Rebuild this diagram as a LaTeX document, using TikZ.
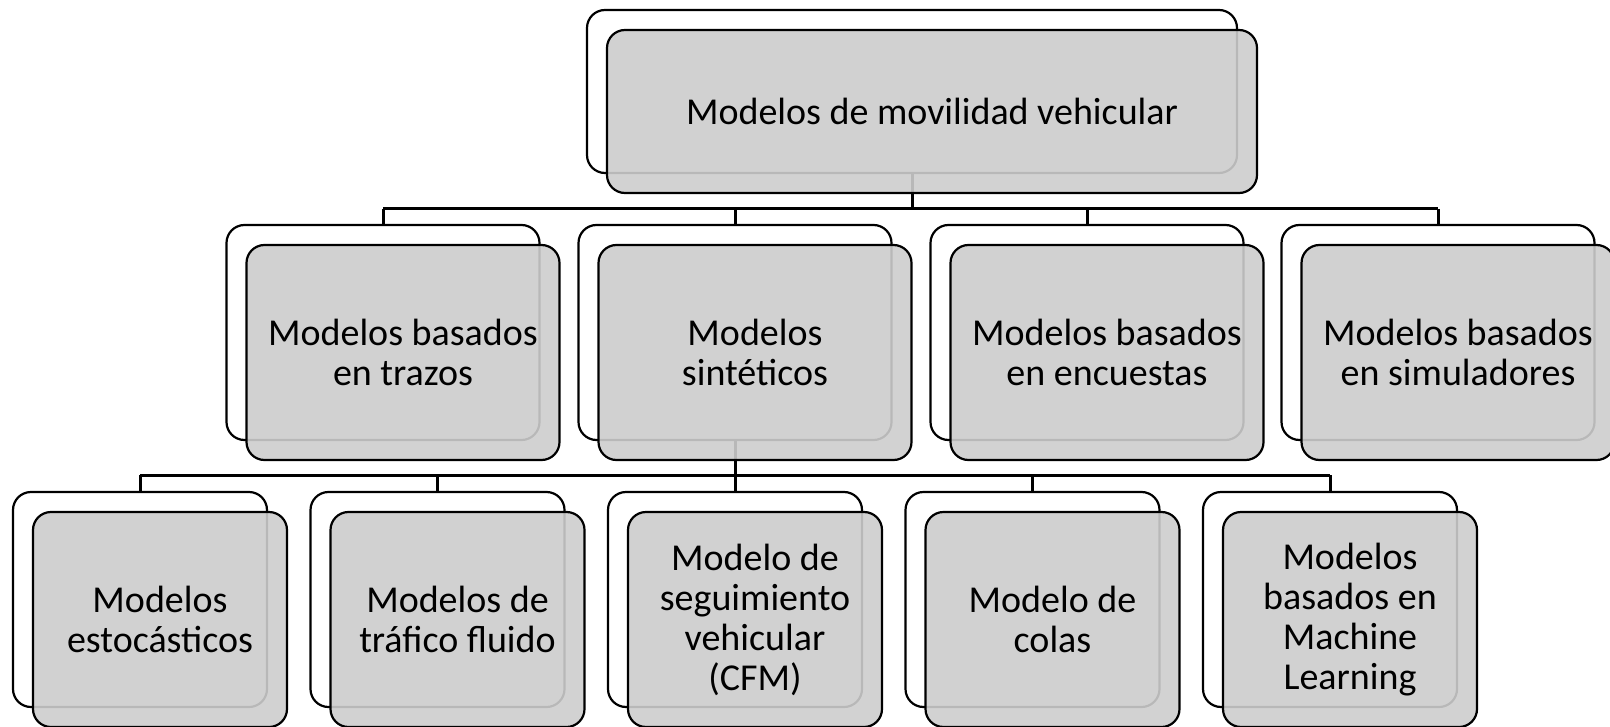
\documentclass[tikz,border=0pt]{standalone}
\usepackage{fontspec}
\setmainfont{Carlito}
\usetikzlibrary{positioning}
\definecolor{boxgray}{RGB}{205,205,205}
\tikzset{
  backbox/.style={draw=black, line width=1.1pt, fill=white, rounded corners=9pt, inner sep=0pt},
  frontbox/.style={draw=black, line width=1.1pt, fill=boxgray, fill opacity=0.9, text opacity=1,
    rounded corners=9pt, inner sep=0pt, align=center, font=\fontsize{19}{20}\selectfont},
  topsize/.style={minimum width=325pt, minimum height=81.5pt},
  midsize/.style={minimum width=156.5pt, minimum height=107.5pt},
  lowsize/.style={minimum width=127pt, minimum height=107.5pt},
  branch/.style={line width=1.5pt},
}

\begin{document}
\begin{tikzpicture}[x=0.5pt, y=-0.5pt]
\useasboundingbox (0,0) rectangle (1610,727);

% back shapes
\node[backbox,topsize] (top) at (912,91.5) {};

\node[backbox,midsize] (trazos) at (383,332.5) {};
\node[backbox,midsize] (sint) at (735,332.5) {};
\node[backbox,midsize] (encu) at (1087,332.5) {};
\node[backbox,midsize] (simu) at (1438,332.5) {};

\node[backbox,lowsize] (esto) at (140,599.5) {};
\node[backbox,lowsize] (fluido) at (437.5,599.5) {};
\node[backbox,lowsize] (cfm) at (735,599.5) {};
\node[backbox,lowsize] (colas) at (1032.5,599.5) {};
\node[backbox,lowsize] (ml) at (1330,599.5) {};

% connectors
\coordinate (busone) at (0,209);
\coordinate (bustwo) at (0,475);
\draw[branch] (top.south) -- (top.south |- busone);
\draw[branch] (trazos.north |- busone) -- (simu.north |- busone);
\foreach \n in {trazos,sint,encu,simu}
  \draw[branch] (\n.north |- busone) -- (\n.north);
\draw[branch] (sint.south) -- (sint.south |- bustwo);
\draw[branch] (esto.north |- bustwo) -- (ml.north |- bustwo);
\foreach \n in {esto,fluido,cfm,colas,ml}
  \draw[branch] (\n.north |- bustwo) -- (\n.north);

% front shapes with the text
\node[frontbox,topsize] (ftop) at ([xshift=10pt,yshift=-10pt]top.center) {Modelos de movilidad vehicular};

\node[frontbox,midsize] (ftrazos) at ([xshift=10pt,yshift=-10pt]trazos.center) {Modelos basados\\en trazos};
\node[frontbox,midsize] (fsint) at ([xshift=10pt,yshift=-10pt]sint.center) {Modelos\\sintéticos};
\node[frontbox,midsize] (fencu) at ([xshift=10pt,yshift=-10pt]encu.center) {Modelos basados\\en encuestas};
\node[frontbox,midsize] (fsimu) at ([xshift=10pt,yshift=-10pt]simu.center) {Modelos basados\\en simuladores};

\node[frontbox,lowsize] (festo) at ([xshift=10pt,yshift=-10pt]esto.center) {Modelos\\estocásticos};
\node[frontbox,lowsize] (ffluido) at ([xshift=10pt,yshift=-10pt]fluido.center) {Modelos de\\tráfico fluido};
\node[frontbox,lowsize] (fcfm) at ([xshift=10pt,yshift=-10pt]cfm.center) {Modelo de\\seguimiento\\vehicular\\(CFM)};
\node[frontbox,lowsize] (fcolas) at ([xshift=10pt,yshift=-10pt]colas.center) {Modelo de\\colas};
\node[frontbox,lowsize] (fml) at ([xshift=10pt,yshift=-10pt]ml.center) {Modelos\\basados en\\Machine\\Learning};
\end{tikzpicture}
\end{document}
